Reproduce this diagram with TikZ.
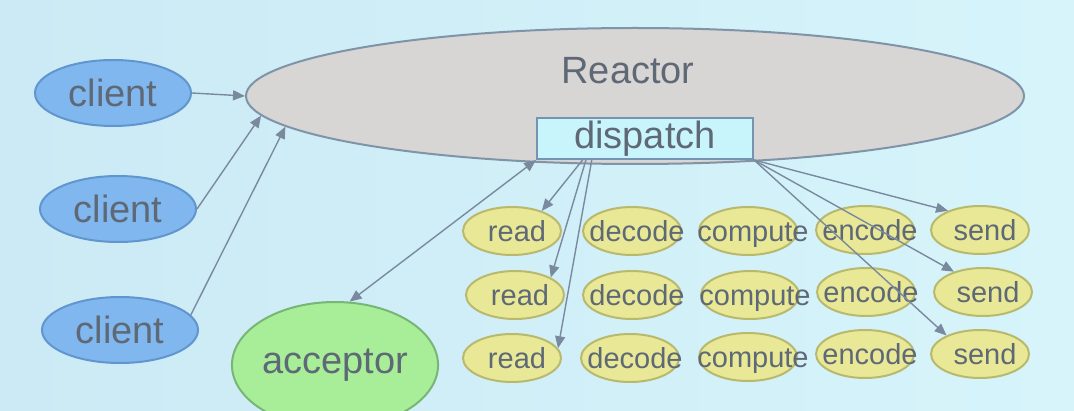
\documentclass[tikz,border=0pt]{standalone}
\usepackage{fontspec}
\setmainfont{Liberation Sans}
\usetikzlibrary{arrows.meta,shapes.geometric,positioning}

\definecolor{bgleft}{RGB}{204,234,245}
\definecolor{bgright}{RGB}{214,244,250}
\definecolor{txtgray}{RGB}{95,105,118}
\definecolor{linegray}{RGB}{122,138,158}
\definecolor{clientblue}{RGB}{128,183,238}
\definecolor{clientedge}{RGB}{96,150,205}
\definecolor{reactorgray}{RGB}{216,213,213}
\definecolor{reactoredge}{RGB}{128,148,168}
\definecolor{dispcyan}{RGB}{200,244,252}
\definecolor{dispedge}{RGB}{118,148,178}
\definecolor{stageyellow}{RGB}{232,232,150}
\definecolor{stageedge}{RGB}{185,185,110}
\definecolor{accgreen}{RGB}{168,238,152}
\definecolor{accedge}{RGB}{120,182,118}

\tikzset{
  bigtext/.style={font=\fontsize{19}{22}\selectfont, text=txtgray},
  client/.style={ellipse, draw=clientedge, fill=clientblue, line width=1pt,
    minimum width=78pt, minimum height=33pt, inner sep=0pt, bigtext},
  stage/.style={ellipse, draw=stageedge, fill=stageyellow, line width=1pt,
    minimum width=49pt, minimum height=24pt, inner sep=0pt,
    label={[font=\fontsize{14.5}{16}\selectfont, text=txtgray, xshift=2.5pt,
      text height=10.5pt, text depth=0pt, inner sep=0pt]center:#1}},
  flow/.style={draw=linegray, line width=0.7pt, ->},
  >={Triangle[length=6pt,width=5pt]}
}

\begin{document}
\begin{tikzpicture}[x=0.5pt,y=-0.5pt]
    \useasboundingbox (0,0) rectangle (1074,411);
    \clip (0,0) rectangle (1074,411);
    \shade[left color=bgleft, right color=bgright] (0,0) rectangle (1074,411);

    % clients
    \node[client] (c1) at (113,93) {client};
    \node[client] (c2) at (118,209) {client};
    \node[client] (c3) at (120,330) {client};

    % reactor and its dispatcher
    \node[ellipse, draw=reactoredge, fill=reactorgray, line width=1pt,
      minimum width=389pt, minimum height=68pt] (reactor) at (635,96) {};
    \node[bigtext] (reactorlbl) at (628,71) {Reactor};
    \node[rectangle, draw=dispedge, fill=dispcyan, line width=1pt,
      minimum width=108pt, minimum height=20.5pt, inner sep=0pt, bigtext] (disp) at (645,138.5) {dispatch};

    \node[ellipse, draw=accedge, fill=accgreen, line width=1pt,
      minimum width=101pt, minimum height=63pt, inner sep=0pt, bigtext] (acc) at (335,365) {acceptor};

    % handlers
    \node[stage=read] (r1) at (512,231) {};
    \node[stage=decode] (d1) at (632,231) {};
    \node[stage=compute] (m1) at (748,231) {};
    \node[stage=encode] (e1) at (865,230) {};
    \node[stage=send] (s1) at (980,230) {};

    \node[stage=read] (r2) at (515,295) {};
    \node[stage=decode] (d2) at (632,295) {};
    \node[stage=compute] (m2) at (750,295) {};
    \node[stage=encode] (e2) at (866,292) {};
    \node[stage=send] (s2) at (983,292) {};

    \node[stage=read] (r3) at (512,358) {};
    \node[stage=decode] (d3) at (630,358) {};
    \node[stage=compute] (m3) at (748,357) {};
    \node[stage=encode] (e3) at (865,354) {};
    \node[stage=send] (s3) at (980,354) {};

    % connections
    \draw[flow] (c1.east) -- (reactor.west);
    \draw[flow] (c2.east) -- (reactor.183);
    \draw[flow] (c3.12) -- (reactor.185);
    \draw[flow, <->] (disp.south west) -- (acc.77);

    \draw[flow] (disp.-161) -- (r1.34);
    \draw[flow] (disp.-160) -- (r2.26);
    \draw[flow] (disp.-158) -- (r3.12);

    \draw[flow] (disp.south east) -- (s1.149);
    \draw[flow] (disp.south east) -- (s2.145);
    \draw[flow] (disp.south east) -- (s3.151);
\end{tikzpicture}
\end{document}
